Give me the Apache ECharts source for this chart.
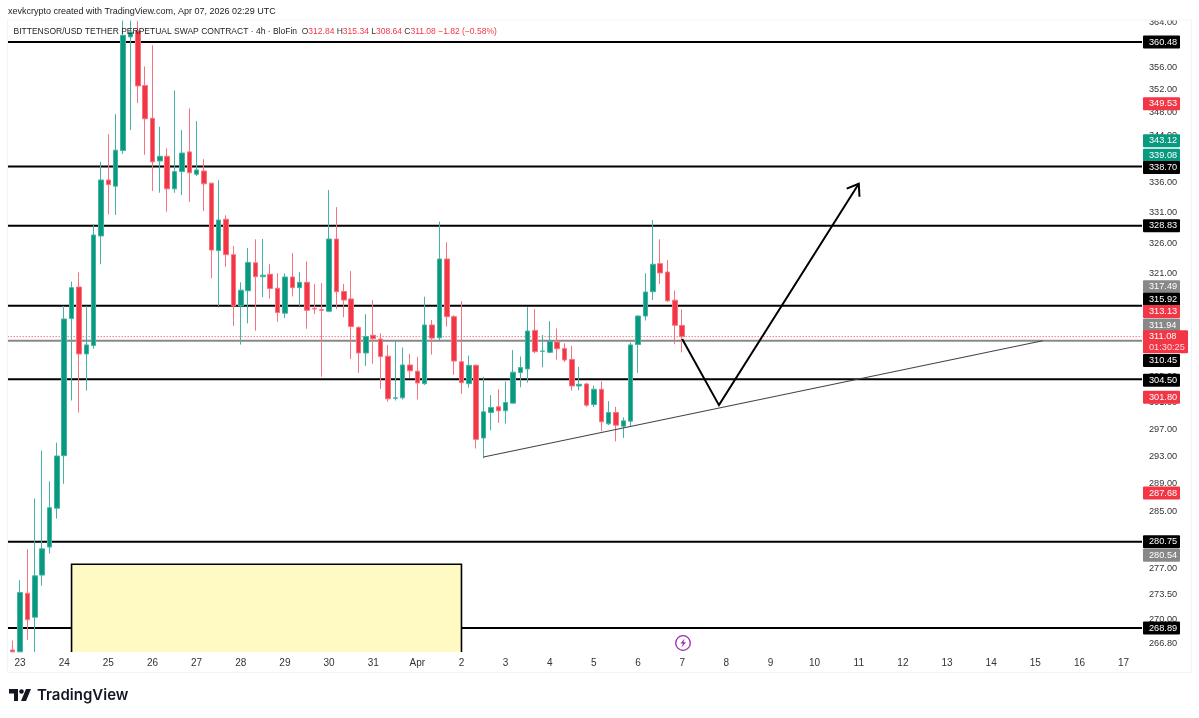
<!DOCTYPE html>
<html><head><meta charset="utf-8">
<style>html,body{margin:0;padding:0;background:#fff}#c{width:1199px;height:718px}</style>
<script src="https://cdn.jsdelivr.net/npm/echarts@6/dist/echarts.min.js"></script>
</head><body><div id="c"></div>
<script>
// ---- data (4h bars, first bar is Mar 22 16:00) ----
const open  = [272.15,265.95,265.7,273.6,270.34,276.1,280,285.5,293.1,313.9,318.9,308.4,309.7,327.15,336.44,335.4,341.45,361.4,362.5,352.7,346.98,339.65,340.45,334.95,337.85,341.2,337.4,337.95,335.9,324.75,329.9,324.1,315.9,318.3,322.8,320.55,320.95,318.7,314.75,320.5,318.8,319.65,315.5,315.3,315.05,326.65,318.2,317,312.5,308.55,311.3,310.7,308.05,301.65,301.7,306.7,305.75,303.85,312.9,310.9,323.4,314.2,307.2,303.85,306.65,295.7,299.5,300.35,299.75,300.9,305.55,306.1,312.05,308.8,308.65,310.25,309.25,307.55,303.5,303.8,300.7,303,297.8,299.5,297.45,298.2,309.85,314.3,318.15,322.65,321.3,316.8,312.84];
const close = [265.7,265.7,273.7,270,276,279.75,285.57,293.05,313.84,318.8,308.4,309.8,327.3,336.44,335.65,341.5,361.7,362.3,352.65,346.9,339.5,340.45,334.95,337.85,341,337.65,338.13,335.8,324.85,329.77,324.1,315.9,318.4,322.85,320.55,320.8,318.65,314.85,320.5,318.8,319.65,315.2,315.4,315.2,326.65,318.15,316.83,312.65,308.55,311.1,310.75,308,301.55,301.7,306.7,305.8,303.95,312.9,310.85,323.4,314.2,307.3,304,306.65,295.5,299.6,300.25,299.75,301,305.6,306.3,311.95,308.75,308.85,310.35,309.2,307.47,303.5,303.75,300.6,303,298.1,299.5,297.6,298.25,309.8,314.3,318.1,322.55,321.15,316.7,312.85,311.08];
const low   = [265.7,265.7,265.7,267.3,265.7,274.64,279.08,284,289,301.3,299.5,302.8,309.2,322.55,330.7,330.6,340.85,344.95,349.65,340.7,334.6,334.3,331.15,334.3,333.9,332.75,337.1,331.25,320.3,315.9,322.15,312.75,309.85,313.15,312,317.3,317.05,313.4,314,317.4,315.9,312.3,314.6,304.9,314.9,315.4,314.1,307.6,305.5,306.55,306.9,303.05,301.1,301.3,301.45,304.7,301.45,303.65,308.3,310.45,312.65,305.2,302.3,303.25,294.15,292.7,296.85,297.95,297.85,300.85,303.3,304,308.5,306.35,308.5,307.5,307.15,302.8,302.85,300.35,300.3,296.7,297.6,295.2,295.7,297.45,305.5,313.6,316.83,319.4,316.5,309.9,308.64];
const high  = [272.15,267.2,275.4,279.7,286.9,293.83,289.36,295,315.9,319.75,321.25,315.9,329.1,339.5,344.25,347.7,364.4,364.4,364.3,356.1,359.9,345.5,341.8,351.85,344.95,348.7,346.5,339.95,335.95,336.4,330.55,325.5,319.65,325.2,326.6,326.65,322.55,321.1,321.1,324.35,321.25,323,319.4,319.55,334.75,331.9,319.4,321.45,312.75,314.6,316.8,311.6,309.8,310.56,309.4,308.4,307.95,317.35,313.7,329.5,326.1,314.45,316.65,308.15,306.8,304.9,302.1,303,304.2,309,308,315.7,315.4,311.35,313.5,312.35,310.05,309.65,306.4,304,303.55,304.2,301.2,300.35,298.75,310.2,314.45,321.1,329.77,326.6,323.23,318.35,315.34];
const dayLabels = ['23','24','25','26','27','28','29','30','31','Apr','2','3','4','5','6','7','8','9','10','11','12','13','14','15','16','17'];
const yTicks = [364,360,356,352,348,344,340,336,331,326,321,317,313,309,305,301,297,293,289,285,281,277,273.5,270,266.8];
const levels = [360.48,338.70,328.83,315.92,304.50,280.75,268.89];
const grayLevel = 310.45;
const lastPrice = 311.08;
const zoneTopPrice = 277.6;
const zoneBottomPrice = 262;
const zoneBars = [9,62];                     // bar positions of the yellow zone
const trendLine = [[65,292.9],[141,310.45]]; // bar position, price
const zigzag = [[92,310.7],[96.85,300.6],[116.3,335.8]];
const tagPrices = [360.48,349.53,343.12,339.08,338.70,328.83,317.49,315.92,313.13,311.94,311.08,310.45,304.50,301.80,287.68,280.75,280.54,268.89];
const tagKinds  = ['k','r','g','g','k','k','y','k','r','y','r','k','k','r','r','k','y','k'];
const tagNudge  = [0,0,0,-9,1,0,-9,-6.4,-12,-6,0,19.7,1,0,0,0,12,0];

// ---- categories: one per 4h bar -----
const categories = ['22 16:00','22 20:00'];
dayLabels.forEach(d => { categories.push(d); ['04','08','12','16','20'].forEach(h => categories.push(d + ' ' + h + ':00')); });
categories.length = 155;

const UP = '#089981', DOWN = '#F23645';
const tagFill = {k:'#000000', r:DOWN, g:UP, y:'#888888'};
const FONT = '"Liberation Sans", Arial, sans-serif';
const candleData = open.map((o,i) => [o, close[i], low[i], high[i]]);

const chart = echarts.init(document.getElementById('c'), null, {renderer:'canvas'});

function rightEnds(params){ const c = params.coordSys; return [c.x, c.x + c.width]; }

chart.setOption({
  animation:false,
  backgroundColor:'#ffffff',
  grid:{left:1.66, right:57, top:20, bottom:66, containLabel:false},
  tooltip:{show:false},
  xAxis:{type:'category', data:categories, boundaryGap:true,
    axisLine:{show:false}, axisTick:{show:false}, splitLine:{show:false},
    axisLabel:{interval:(i,v)=>!v.includes(':'), color:'#333', fontSize:10, fontFamily:FONT, margin:6,
      formatter:v=>v.includes(':')?'':v}},
  yAxis:{type:'log', logBase:10, position:'right', min:265.68, max:364.47, scale:true,
    axisLine:{show:false}, axisTick:{show:false}, splitLine:{show:false}, minorTick:{show:false}, minorSplitLine:{show:false},
    axisLabel:{customValues:yTicks, color:'#333', fontSize:9.2, fontFamily:FONT, margin:7, showMinLabel:true, showMaxLabel:true,
      formatter:v=>Number(v).toFixed(2)}},
  series:[
    {type:'custom', name:'levels', z:1, silent:true, coordinateSystem:'cartesian2d', encode:{x:0,y:1},
      data:levels.concat([grayLevel,lastPrice]).map(p=>[0,p]),
      renderItem:(params,api)=>{
        const p = api.value(1), [x0,x1] = rightEnds(params), y = api.coord([0,p])[1];
        const gray = p===grayLevel, dot = p===lastPrice;
        return {type:'line', shape:{x1:x0,y1:y,x2:x1,y2:y},
          style:{stroke:dot?DOWN:gray?'#888888':'#000000', lineWidth:dot?1:2, lineDash:dot?[1,2]:null, fill:null}};
      }},
    {type:'candlestick', name:'BITTENSOR/USD', z:2, barWidth:5, clip:true, data:candleData,
      itemStyle:{color:UP, color0:DOWN, borderColor:'#45b3a1', borderColor0:'#f7737f', borderWidth:1}},
    {type:'custom', name:'zone', z:3, silent:true, clip:true, coordinateSystem:'cartesian2d', encode:{x:0,y:1},
      data:[[0,zoneTopPrice]],
      renderItem:(params,api)=>{
        const a = api.coord([zoneBars[0],zoneTopPrice]), b = api.coord([zoneBars[1],zoneBottomPrice]);
        return {type:'rect', shape:{x:a[0],y:a[1],width:b[0]-a[0],height:b[1]-a[1]},
          style:{fill:'#FFF9C4', stroke:'#000000', lineWidth:1.6}};
      }},
    {type:'custom', name:'drawings', z:4, silent:true, coordinateSystem:'cartesian2d', encode:{x:0,y:1},
      data:[[0,300]],
      renderItem:(params,api)=>{
        const at = q => api.coord([q[0],q[1]]);
        const pts = zigzag.map(at), tip = pts[2], prev = pts[1];
        const ang = Math.atan2(tip[1]-prev[1], tip[0]-prev[0]), L = 13, S = 0.62;
        const armA = [tip[0]-L*Math.cos(ang-S), tip[1]-L*Math.sin(ang-S)];
        const armB = [tip[0]-L*Math.cos(ang+S), tip[1]-L*Math.sin(ang+S)];
        return {type:'group', children:[
          {type:'line', shape:{x1:at(trendLine[0])[0],y1:at(trendLine[0])[1],x2:at(trendLine[1])[0],y2:at(trendLine[1])[1]},
            style:{stroke:'#444444',lineWidth:1.1}},
          {type:'polyline', shape:{points:pts}, style:{stroke:'#000',lineWidth:2,fill:null}},
          {type:'polyline', shape:{points:[armA,tip,armB]}, style:{stroke:'#000',lineWidth:2,fill:null}}
        ]};
      }},
    {type:'custom', name:'tags', z:6, silent:true, clip:false, coordinateSystem:'cartesian2d', encode:{x:0,y:1},
      data:tagPrices.map(p=>[0,p]),
      renderItem:(params,api)=>{
        const i = params.dataIndex, p = tagPrices[i];
        const x = params.coordSys.x + params.coordSys.width + 1;
        const y = api.coord([0,p])[1] + tagNudge[i];
        const isLast = p===lastPrice;
        const kids = [
          {type:'rect', shape:{x:x,y:y-6.5,width:isLast?45:37,height:isLast?23:13,r:1}, style:{fill:tagFill[tagKinds[i]]}},
          {type:'text', style:{x:x+6,y:y,text:p.toFixed(2),fill:'#fff',font:'9.2px '+FONT,verticalAlign:'middle'}}
        ];
        if(isLast) kids.push({type:'text', style:{x:x+6,y:y+10.5,text:'01:30:25',fill:'#ffd9dd',font:'9.2px '+FONT,verticalAlign:'middle'}});
        return {type:'group', children:kids};
      }}
  ],
  graphic:[
    {type:'rect', z:50, silent:true, shape:{x:0,y:0,width:7.5,height:718}, style:{fill:'#fff'}},
    {type:'rect', z:50, silent:true, shape:{x:1143,y:13,width:48,height:7}, style:{fill:'#fff'}},
    {type:'rect', z:51, silent:true, shape:{x:7.5,y:20,width:1184,height:652.5}, style:{fill:null,stroke:'#F0F3FA',lineWidth:1}},
    {type:'text', z:52, silent:true, style:{x:8,y:7,text:'xevkcrypto created with TradingView.com, Apr 07, 2026 02:29 UTC',fill:'#222',font:'9px '+FONT}},
    {type:'text', z:52, silent:true, style:{x:13.5,y:27,fill:'#222',font:'8.5px '+FONT,
      text:'BITTENSOR/USD TETHER PERPETUAL SWAP CONTRACT · 4h · BloFin  {o|O}{r|312.84} {o|H}{r|315.34} {o|L}{r|308.64} {o|C}{r|311.08} {r|−1.82 (−0.58%)}',
      rich:{o:{fill:'#333',font:'8.5px '+FONT},r:{fill:DOWN,font:'8.5px '+FONT}}}},
    {type:'polygon', z:52, silent:true, shape:{points:[[9,689],[18,689],[18,701],[14,701],[14,693.5],[9,693.5]]}, style:{fill:'#131722'}},
    {type:'circle', z:52, silent:true, shape:{cx:21.5,cy:691.5,r:2.3}, style:{fill:'#131722'}},
    {type:'polygon', z:52, silent:true, shape:{points:[[26,689],[31,689],[26,701],[21,701]]}, style:{fill:'#131722'}},
    {type:'text', z:52, silent:true, style:{x:37,y:687.5,text:'TradingView',fill:'#131722',font:'600 15px Inter, '+FONT}},
    {type:'circle', z:52, silent:true, shape:{cx:683,cy:643,r:7.3}, style:{fill:'#fff',stroke:'#9C27B0',lineWidth:1.3}},
    {type:'polygon', z:53, silent:true, shape:{points:[[684.5,638.5],[680.5,643.5],[683,643.5],[681.5,647.5],[686,642.2],[683.4,642.2]]}, style:{fill:'#9C27B0'}}
  ]
});
</script></body></html>
